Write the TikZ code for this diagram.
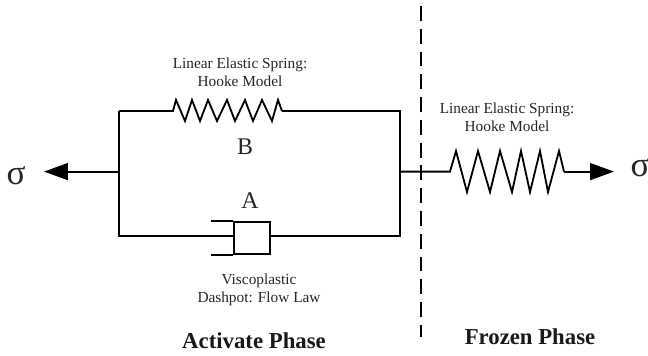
\documentclass[tikz,border=0pt]{standalone}
\usepackage{fontspec}
\setmainfont{Liberation Serif}
\usetikzlibrary{arrows.meta}

\tikzset{
	wire/.style={line width=1.3pt,line join=miter},
	load/.style={wire,-{Triangle[length=17pt,width=12pt]}},
	note/.style={font=\fontsize{10.9}{12.8}\selectfont,align=center,inner sep=0pt,text=black!85},
	letter/.style={font=\fontsize{17}{17}\selectfont,inner sep=0pt,text=black!85},
	bigsigma/.style={font=\fontsize{25}{25}\selectfont,inner sep=0pt,text=black!85},
	phase/.style={font=\fontsize{16.2}{16.2}\bfseries\selectfont,inner sep=0pt,text=black!90}
}

\begin{document}
\begin{tikzpicture}
	\useasboundingbox (0,0) rectangle (16.2,8.9);
	% frame corners
	\coordinate (tl) at (2.975,6.125);
	\coordinate (ml) at (2.975,4.61);
	\coordinate (bl) at (2.975,3);
	\coordinate (tr) at (9.99,6.125);
	\coordinate (mr) at (9.99,4.61);
	\coordinate (br) at (9.99,3);
	\coordinate (tipl) at (1.1,4.61);
	\coordinate (tipr) at (15.35,4.61);
	\coordinate (sBin) at (4.325,6.125);
	\coordinate (sBout) at (7.05,6.125);
	\coordinate (sFin) at (11.25,4.61);
	\coordinate (sFout) at (14.1,4.61);
	\coordinate (dashtop) at (10.525,8.75);
	\coordinate (dashbot) at (10.525,0.475);
	\node[draw,line width=1.3pt,minimum width=0.9cm,minimum height=0.8cm,inner sep=0pt] (dashpot) at (6.3,2.95) {};

	\draw[wire] (tl) -- (bl) -- (dashpot.west |- bl);
	\draw[wire] (dashpot.east |- br) -- (br) -- (tr) -- (sBout);
	\draw[wire] (tl) -- (sBin) -- (4.4,6.4) -- (4.625,5.875) -- (4.8,6.4) -- (5,5.875) -- (5.2,6.4) -- (5.425,5.875) -- (5.675,6.4) -- (5.875,5.875) -- (6.125,6.4) -- (6.325,5.875) -- (6.55,6.4) -- (6.8,5.875) -- (6.95,6.4) -- (sBout);
	\draw[wire] (dashpot.north west) -- ++(-0.55,0);
	\draw[wire] (dashpot.south west) -- ++(-0.55,0);
	\draw[load] (ml) -- (tipl);
	\draw[wire] (mr) -- (sFin) -- (11.4,5.125) -- (11.675,4.1) -- (11.95,5.125) -- (12.25,4.1) -- (12.5,5.125) -- (12.8,4.1) -- (13.025,5.125) -- (13.25,4.1) -- (13.5,5.125) -- (13.7,4.1) -- (13.975,5.125) -- (sFout);
	\draw[load] (sFout) -- (tipr);
	\draw[wire,dash pattern=on 10.6pt off 5.6pt] (dashtop) -- (dashbot);

	\node[note] (noteB) at (6,7.1) {Linear Elastic Spring:\\Hooke Model};
	\node[note] (noteF) at (12.675,5.96) {Linear Elastic Spring:\\Hooke Model};
	\node[note] (noteA) at (6.475,1.65) {Viscoplastic\\Dashpot: Flow Law};
	\node[letter] (B) at (6.125,5.225) {B};
	\node[letter] (A) at (6.25,3.875) {A};
	\node[bigsigma] (sigl) at (0.4,4.5) {σ};
	\node[bigsigma] (sigr) at (16,4.7) {σ};
	\node[phase] (active) at (6.35,0.375) {Activate Phase};
	\node[phase] (frozen) at (13.25,0.48) {Frozen Phase};
\end{tikzpicture}
\end{document}
